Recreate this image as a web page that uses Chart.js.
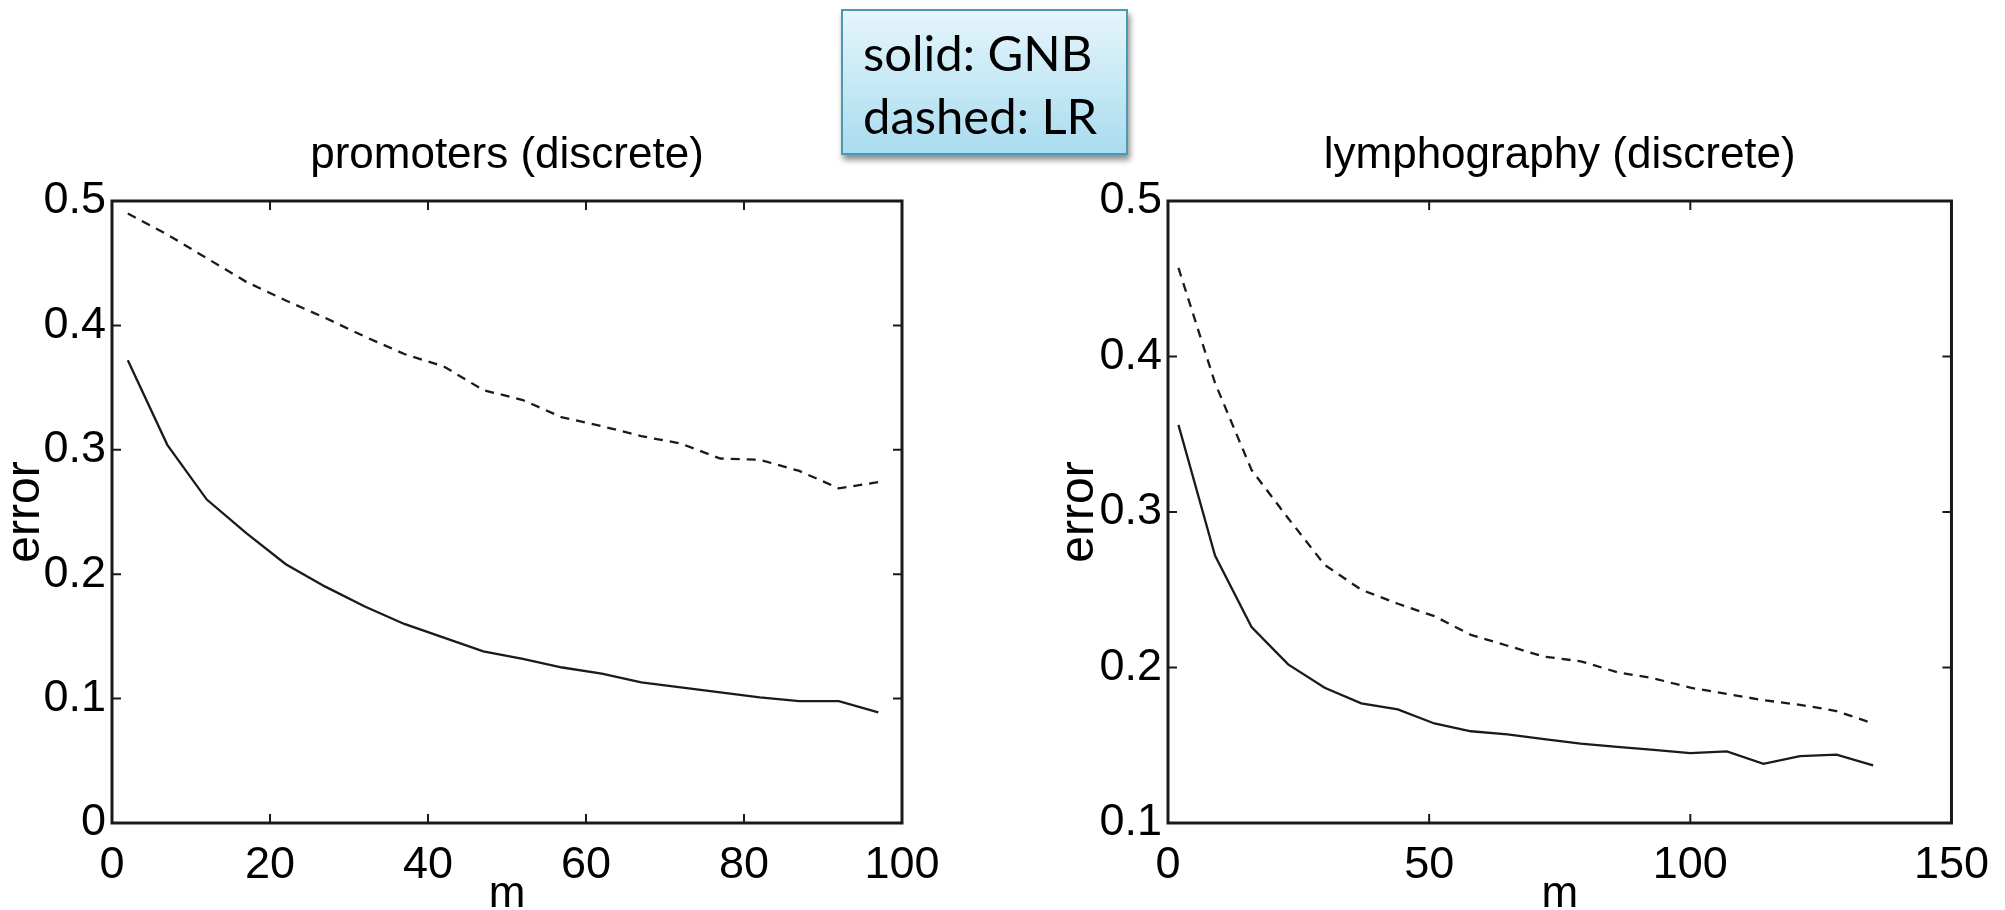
<!DOCTYPE html>
<html>
<head>
<meta charset="utf-8">
<script src="https://cdn.jsdelivr.net/npm/chart.js@4.4.1/dist/chart.umd.min.js"></script>
<style>
  html, body { margin: 0; padding: 0; background: #fff; width: 2005px; height: 910px; overflow: hidden; position: relative; }
  canvas { position: absolute; top: 0; }
  #c1 { left: 0px; }
  #c2 { left: 1002px; }
  #legend {
    position: absolute; left: 841px; top: 9px; width: 283px; height: 142px;
    border: 2px solid #4b9bb0;
    background: linear-gradient(to bottom, #e5f5fb 0%, #a9dcef 100%);
    box-shadow: 2px 5px 6px rgba(0,0,0,0.45);
    font-family: Lato, "Open Sans", sans-serif; font-size: 49px; color: #000;
  }
  #legend div { position: absolute; left: 20px; white-space: nowrap; line-height: 62px; }
</style>
</head>
<body>
<canvas id="c1" width="1000" height="930"></canvas>
<canvas id="c2" width="1003" height="930"></canvas>
<div id="legend"><div style="top:10px">solid: GNB</div><div style="top:73px">dashed: LR</div></div>
<script>
// ---- data ----
const promotersTitle = "promoters (discrete)";
const lymphTitle = "lymphography (discrete)";
const promotersM = [2, 7, 12, 17, 22, 27, 32, 37, 42, 47, 52, 57, 62, 67, 72, 77, 82, 87, 92, 97];
const promotersGNB = [0.372, 0.304, 0.260, 0.233, 0.208, 0.190, 0.174, 0.160, 0.149, 0.138, 0.132, 0.125, 0.120, 0.113, 0.109, 0.105, 0.101, 0.098, 0.098, 0.089];
const promotersLR = [0.490, 0.473, 0.454, 0.435, 0.420, 0.406, 0.391, 0.377, 0.367, 0.348, 0.340, 0.326, 0.319, 0.311, 0.305, 0.293, 0.292, 0.283, 0.269, 0.274];
const lymphM = [2, 9, 16, 23, 30, 37, 44, 51, 58, 65, 72, 79, 86, 93, 100, 107, 114, 121, 128, 135];
const lymphGNB = [0.356, 0.272, 0.226, 0.202, 0.187, 0.177, 0.173, 0.164, 0.159, 0.157, 0.154, 0.151, 0.149, 0.147, 0.145, 0.146, 0.138, 0.143, 0.144, 0.137];
const lymphLR = [0.457, 0.383, 0.327, 0.296, 0.266, 0.250, 0.241, 0.233, 0.221, 0.214, 0.207, 0.204, 0.197, 0.193, 0.187, 0.183, 0.179, 0.176, 0.172, 0.164];
const promotersXTicks = [0, 20, 40, 60, 80, 100];
const promotersYTicks = [0, 0.1, 0.2, 0.3, 0.4, 0.5];
const lymphXTicks = [0, 50, 100, 150];
const lymphYTicks = [0.1, 0.2, 0.3, 0.4, 0.5];
const xLabel = "m";
const yLabel = "error";

const FONT = "'Liberation Sans', Arial, Helvetica, sans-serif";
const TXT = 45;   // tick labels
const TTL = 44;   // plot titles / x label
const INK = '#1a1a1a';

const boxTicks = {
  id: 'boxTicks',
  afterDatasetsDraw(chart) {
    const {ctx, chartArea: a, scales: {x, y}} = chart;
    const L = 9;
    ctx.save();
    ctx.strokeStyle = INK;
    ctx.lineWidth = 2;
    ctx.beginPath();
    x.ticks.forEach(t => {
      const px = x.getPixelForValue(t.value);
      ctx.moveTo(px, a.bottom); ctx.lineTo(px, a.bottom - L);
      ctx.moveTo(px, a.top); ctx.lineTo(px, a.top + L);
    });
    y.ticks.forEach(t => {
      const py = y.getPixelForValue(t.value);
      ctx.moveTo(a.left, py); ctx.lineTo(a.left + L, py);
      ctx.moveTo(a.right, py); ctx.lineTo(a.right - L, py);
    });
    ctx.stroke();
    ctx.lineWidth = 3;
    ctx.strokeRect(a.left, a.top, a.right - a.left, a.bottom - a.top);
    ctx.restore();
  }
};

function makeChart(id, opts) {
  const toPts = (xs, ys) => xs.map((v, i) => ({x: v, y: ys[i]}));
  const xmin = opts.xTicks[0], xmax = opts.xTicks[opts.xTicks.length - 1];
  return new Chart(document.getElementById(id), {
    type: 'line',
    data: {
      datasets: [
        { label: 'GNB', data: toPts(opts.m, opts.gnb), borderColor: INK, borderWidth: 2.3, pointRadius: 0, tension: 0, fill: false },
        { label: 'LR', data: toPts(opts.m, opts.lr), borderColor: INK, borderWidth: 2.3, borderDash: [9, 7], pointRadius: 0, tension: 0, fill: false }
      ]
    },
    options: {
      responsive: false,
      animation: false,
      devicePixelRatio: 1,
      layout: { padding: { left: 0, right: opts.padRight, top: 0, bottom: 0 } },
      plugins: {
        legend: { display: false },
        tooltip: { enabled: false },
        title: { display: false }
      },
      scales: {
        // top axis only carries the plot title, centred over the plotting box
        xTop: {
          type: 'linear', position: 'top', min: xmin, max: xmax,
          afterFit: s => { s.height = 201; },
          grid: { display: false, drawTicks: false },
          border: { display: false },
          ticks: { display: false },
          title: { display: true, text: opts.title, color: '#000',
                   font: { family: FONT, size: TTL, lineHeight: 1.2 },
                   padding: { top: 156 - TTL * 0.6, bottom: 0 } }
        },
        x: {
          type: 'linear', position: 'bottom', min: xmin, max: xmax,
          afterBuildTicks: s => { s.ticks = opts.xTicks.map(v => ({value: v})); },
          afterFit: s => { s.height = 107; },
          grid: { display: false, drawTicks: false },
          border: { display: false },
          ticks: { color: '#000', padding: 16, maxRotation: 0, autoSkip: false,
                   font: { family: FONT, size: TXT }, callback: v => String(v) },
          title: { display: true, text: xLabel, color: '#000',
                   font: { family: FONT, size: TTL, lineHeight: 1 }, padding: { top: 0, bottom: 13 } }
        },
        y: {
          type: 'linear', min: opts.yTicks[0], max: opts.yTicks[opts.yTicks.length - 1],
          afterBuildTicks: s => { s.ticks = opts.yTicks.map(v => ({value: v})); },
          afterFit: s => { s.width = opts.yWidth; },
          grid: { display: false, drawTicks: false },
          border: { display: false },
          ticks: { color: '#000', padding: 6, autoSkip: false,
                   font: { family: FONT, size: TXT }, callback: v => String(Math.round(v * 10) / 10) },
          title: { display: true, text: yLabel, color: '#000',
                   font: { family: FONT, size: 48, lineHeight: 1 }, padding: { top: opts.yTitlePad, bottom: 0 } }
        }
      }
    },
    plugins: [boxTicks]
  });
}

makeChart('c1', { title: promotersTitle, m: promotersM, gnb: promotersGNB, lr: promotersLR,
  xTicks: promotersXTicks, yTicks: promotersYTicks, yWidth: 112, padRight: 98, yTitlePad: 2 });
makeChart('c2', { title: lymphTitle, m: lymphM, gnb: lymphGNB, lr: lymphLR,
  xTicks: lymphXTicks, yTicks: lymphYTicks, yWidth: 166, padRight: 50, yTitlePad: 54 });
</script>
</body>
</html>
